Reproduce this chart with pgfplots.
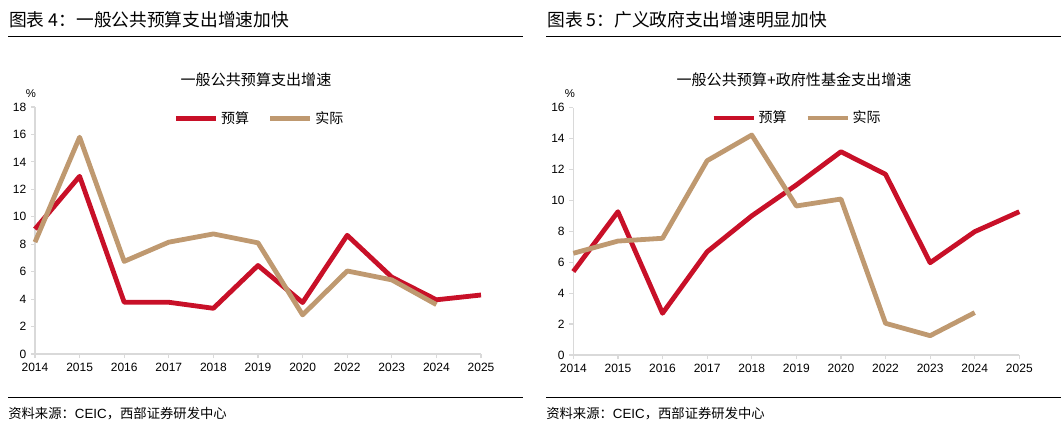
\documentclass[border=0pt]{standalone}
\usepackage{fontspec}
\setmainfont{Liberation Sans}
\newfontfamily\cjk{Noto Sans CJK SC}
\usepackage{pgfplots}
\pgfplotsset{compat=1.18}
\definecolor{cred}{RGB}{200,16,40}
\definecolor{ctan}{RGB}{191,153,112}
\definecolor{axgray}{RGB}{217,217,217}
\pgfplotsset{
  myaxis/.style={
    anchor=south west, scale only axis, width=334.5pt,
    xmin=0, xmax=10, ymin=0, xtick={0,...,10},
    xticklabels={2014,2015,2016,2017,2018,2019,2020,2022,2023,2024,2025},
    axis x line*=bottom, axis y line*=left,
    axis line style={draw=axgray, line width=0.9pt, -},
    tick align=outside, major tick length=3pt,
    tick style={draw=axgray, line width=0.9pt},
    tick label style={font=\fontsize{9}{10}\selectfont, black},
    /pgf/number format/assume math mode=true,
    clip=false,
    legend style={draw=none, fill=none, legend columns=2,
      font=\cjk\fontsize{10.5}{12}\selectfont,
      /tikz/every even column/.append style={column sep=12pt},
      nodes={inner sep=2pt}},
    legend image code/.code={\draw[##1] (0pt,0pt) -- (30pt,0pt);},
    every axis plot/.append style={line width=3.6pt, line join=round},
  }
}
\begin{document}
\begin{tikzpicture}
\begin{scope}[x=0.75pt,y=-0.75pt]
\path[use as bounding box] (0,0) rectangle (1063,427);
\node[anchor=west, inner sep=0, font=\cjk\fontsize{13.3}{15}\selectfont] at (9,20) {图表 4：一般公共预算支出增速加快};
\node[anchor=west, inner sep=0, font=\cjk\fontsize{13.3}{15}\selectfont] at (547,20) {图表 5：广义政府支出增速明显加快};
\draw[line width=1pt] (8,36.7) -- (522.7,36.7);
\draw[line width=1pt] (546,36.7) -- (1061,36.7);
\draw[line width=1pt] (8,397.7) -- (522.7,397.7);
\draw[line width=1pt] (546,397.7) -- (1061,397.7);
\node[anchor=west, inner sep=0, font=\cjk\fontsize{10}{12}\selectfont] at (8,414) {资料来源：\fontspec{Liberation Sans}CEIC\cjk，西部证券研发中心};
\node[anchor=west, inner sep=0, font=\cjk\fontsize{10}{12}\selectfont] at (546,414) {资料来源：\fontspec{Liberation Sans}CEIC\cjk，西部证券研发中心};
\node[font=\cjk\fontsize{11.3}{13}\selectfont] at (256,80) {一般公共预算支出增速};
\node[font=\cjk\fontsize{11.3}{13}\selectfont] at (794,80) {一般公共预算\fontspec{Liberation Sans}+\cjk 政府性基金支出增速};
\node[font=\fontsize{8.5}{9}\selectfont] at (31,94) {\%};
\node[font=\fontsize{8.5}{9}\selectfont] at (570,94) {\%};
\end{scope}

\begin{axis}[myaxis, at={(26.25pt,-265.5pt)}, height=185.25pt, ymax=18, ytick={0,2,...,18},
  legend style={at={(0.504,0.955)}, anchor=center}]
\addplot[cred] coordinates {(0,9.1) (1,12.95) (2,3.77) (3,3.77) (4,3.33) (5,6.45) (6,3.75) (7,8.65) (8,5.6) (9,3.95) (10,4.3)};
\addlegendentry{预算}
\addplot[ctan] coordinates {(0,8.15) (1,15.8) (2,6.75) (3,8.15) (4,8.75) (5,8.1) (6,2.85) (7,6.05) (8,5.4) (9,3.6)};
\addlegendentry{实际}
\end{axis}

\begin{axis}[myaxis, at={(430pt,-266.25pt)}, height=185.5pt, ymax=16, ytick={0,2,...,16},
  legend style={at={(0.502,0.958)}, anchor=center}]
\addplot[cred] coordinates {(0,5.4) (1,9.27) (2,2.7) (3,6.68) (4,9.0) (5,11.0) (6,13.15) (7,11.69) (8,5.97) (9,7.98) (10,9.27)};
\addlegendentry{预算}
\addplot[ctan] coordinates {(0,6.58) (1,7.37) (2,7.55) (3,12.57) (4,14.23) (5,9.64) (6,10.09) (7,2.05) (8,1.25) (9,2.74)};
\addlegendentry{实际}
\end{axis}
\end{tikzpicture}
\end{document}
